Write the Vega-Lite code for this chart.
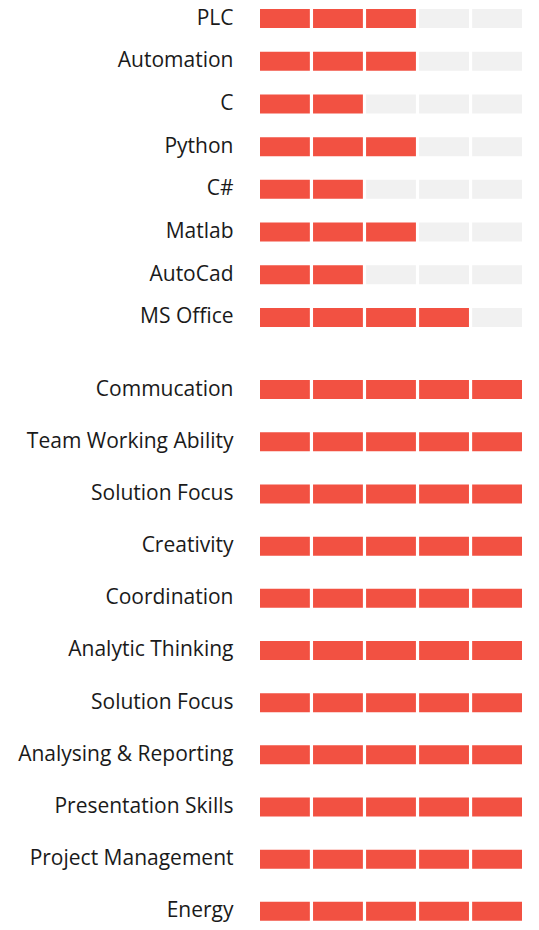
{
  "$schema": "https://vega.github.io/schema/vega-lite/v6.json",
  "padding": {"left": 17, "top": 5, "right": 5, "bottom": 0},
  "background": "white",
  "data": {"values": [
    {"skill": "PLC", "group": "tech", "seg": 1, "on": 1}, {"skill": "PLC", "group": "tech", "seg": 2, "on": 1}, {"skill": "PLC", "group": "tech", "seg": 3, "on": 1}, {"skill": "PLC", "group": "tech", "seg": 4, "on": 0}, {"skill": "PLC", "group": "tech", "seg": 5, "on": 0},
    {"skill": "Automation", "group": "tech", "seg": 1, "on": 1}, {"skill": "Automation", "group": "tech", "seg": 2, "on": 1}, {"skill": "Automation", "group": "tech", "seg": 3, "on": 1}, {"skill": "Automation", "group": "tech", "seg": 4, "on": 0}, {"skill": "Automation", "group": "tech", "seg": 5, "on": 0},
    {"skill": "C", "group": "tech", "seg": 1, "on": 1}, {"skill": "C", "group": "tech", "seg": 2, "on": 1}, {"skill": "C", "group": "tech", "seg": 3, "on": 0}, {"skill": "C", "group": "tech", "seg": 4, "on": 0}, {"skill": "C", "group": "tech", "seg": 5, "on": 0},
    {"skill": "Python", "group": "tech", "seg": 1, "on": 1}, {"skill": "Python", "group": "tech", "seg": 2, "on": 1}, {"skill": "Python", "group": "tech", "seg": 3, "on": 1}, {"skill": "Python", "group": "tech", "seg": 4, "on": 0}, {"skill": "Python", "group": "tech", "seg": 5, "on": 0},
    {"skill": "C#", "group": "tech", "seg": 1, "on": 1}, {"skill": "C#", "group": "tech", "seg": 2, "on": 1}, {"skill": "C#", "group": "tech", "seg": 3, "on": 0}, {"skill": "C#", "group": "tech", "seg": 4, "on": 0}, {"skill": "C#", "group": "tech", "seg": 5, "on": 0},
    {"skill": "Matlab", "group": "tech", "seg": 1, "on": 1}, {"skill": "Matlab", "group": "tech", "seg": 2, "on": 1}, {"skill": "Matlab", "group": "tech", "seg": 3, "on": 1}, {"skill": "Matlab", "group": "tech", "seg": 4, "on": 0}, {"skill": "Matlab", "group": "tech", "seg": 5, "on": 0},
    {"skill": "AutoCad", "group": "tech", "seg": 1, "on": 1}, {"skill": "AutoCad", "group": "tech", "seg": 2, "on": 1}, {"skill": "AutoCad", "group": "tech", "seg": 3, "on": 0}, {"skill": "AutoCad", "group": "tech", "seg": 4, "on": 0}, {"skill": "AutoCad", "group": "tech", "seg": 5, "on": 0},
    {"skill": "MS Office", "group": "tech", "seg": 1, "on": 1}, {"skill": "MS Office", "group": "tech", "seg": 2, "on": 1}, {"skill": "MS Office", "group": "tech", "seg": 3, "on": 1}, {"skill": "MS Office", "group": "tech", "seg": 4, "on": 1}, {"skill": "MS Office", "group": "tech", "seg": 5, "on": 0},
    {"skill": "Commucation", "group": "soft", "seg": 1, "on": 1}, {"skill": "Commucation", "group": "soft", "seg": 2, "on": 1}, {"skill": "Commucation", "group": "soft", "seg": 3, "on": 1}, {"skill": "Commucation", "group": "soft", "seg": 4, "on": 1}, {"skill": "Commucation", "group": "soft", "seg": 5, "on": 1},
    {"skill": "Team Working Ability", "group": "soft", "seg": 1, "on": 1}, {"skill": "Team Working Ability", "group": "soft", "seg": 2, "on": 1}, {"skill": "Team Working Ability", "group": "soft", "seg": 3, "on": 1}, {"skill": "Team Working Ability", "group": "soft", "seg": 4, "on": 1}, {"skill": "Team Working Ability", "group": "soft", "seg": 5, "on": 1},
    {"skill": "Solution Focus", "group": "soft", "seg": 1, "on": 1}, {"skill": "Solution Focus", "group": "soft", "seg": 2, "on": 1}, {"skill": "Solution Focus", "group": "soft", "seg": 3, "on": 1}, {"skill": "Solution Focus", "group": "soft", "seg": 4, "on": 1}, {"skill": "Solution Focus", "group": "soft", "seg": 5, "on": 1},
    {"skill": "Creativity", "group": "soft", "seg": 1, "on": 1}, {"skill": "Creativity", "group": "soft", "seg": 2, "on": 1}, {"skill": "Creativity", "group": "soft", "seg": 3, "on": 1}, {"skill": "Creativity", "group": "soft", "seg": 4, "on": 1}, {"skill": "Creativity", "group": "soft", "seg": 5, "on": 1},
    {"skill": "Coordination", "group": "soft", "seg": 1, "on": 1}, {"skill": "Coordination", "group": "soft", "seg": 2, "on": 1}, {"skill": "Coordination", "group": "soft", "seg": 3, "on": 1}, {"skill": "Coordination", "group": "soft", "seg": 4, "on": 1}, {"skill": "Coordination", "group": "soft", "seg": 5, "on": 1},
    {"skill": "Analytic Thinking", "group": "soft", "seg": 1, "on": 1}, {"skill": "Analytic Thinking", "group": "soft", "seg": 2, "on": 1}, {"skill": "Analytic Thinking", "group": "soft", "seg": 3, "on": 1}, {"skill": "Analytic Thinking", "group": "soft", "seg": 4, "on": 1}, {"skill": "Analytic Thinking", "group": "soft", "seg": 5, "on": 1},
    {"skill": "Solution Focus~2", "group": "soft", "seg": 1, "on": 1}, {"skill": "Solution Focus~2", "group": "soft", "seg": 2, "on": 1}, {"skill": "Solution Focus~2", "group": "soft", "seg": 3, "on": 1}, {"skill": "Solution Focus~2", "group": "soft", "seg": 4, "on": 1}, {"skill": "Solution Focus~2", "group": "soft", "seg": 5, "on": 1},
    {"skill": "Analysing & Reporting", "group": "soft", "seg": 1, "on": 1}, {"skill": "Analysing & Reporting", "group": "soft", "seg": 2, "on": 1}, {"skill": "Analysing & Reporting", "group": "soft", "seg": 3, "on": 1}, {"skill": "Analysing & Reporting", "group": "soft", "seg": 4, "on": 1}, {"skill": "Analysing & Reporting", "group": "soft", "seg": 5, "on": 1},
    {"skill": "Presentation Skills", "group": "soft", "seg": 1, "on": 1}, {"skill": "Presentation Skills", "group": "soft", "seg": 2, "on": 1}, {"skill": "Presentation Skills", "group": "soft", "seg": 3, "on": 1}, {"skill": "Presentation Skills", "group": "soft", "seg": 4, "on": 1}, {"skill": "Presentation Skills", "group": "soft", "seg": 5, "on": 1},
    {"skill": "Project Management", "group": "soft", "seg": 1, "on": 1}, {"skill": "Project Management", "group": "soft", "seg": 2, "on": 1}, {"skill": "Project Management", "group": "soft", "seg": 3, "on": 1}, {"skill": "Project Management", "group": "soft", "seg": 4, "on": 1}, {"skill": "Project Management", "group": "soft", "seg": 5, "on": 1},
    {"skill": "Energy", "group": "soft", "seg": 1, "on": 1}, {"skill": "Energy", "group": "soft", "seg": 2, "on": 1}, {"skill": "Energy", "group": "soft", "seg": 3, "on": 1}, {"skill": "Energy", "group": "soft", "seg": 4, "on": 1}, {"skill": "Energy", "group": "soft", "seg": 5, "on": 1}
  ]},
  "config": {
    "view": {"stroke": null},
    "axis": {"domain": false, "ticks": false, "grid": false, "labelFont": "Open Sans", "labelFontSize": 21, "labelColor": "#1a1a1a", "labelPadding": 27, "labelLimit": 400},
    "concat": {"spacing": 41}
  },
  "vconcat": [
    {
      "width": 262,
      "height": {"step": 42.69},
      "transform": [{"filter": "datum.group === 'tech'"}],
      "mark": {"type": "bar", "height": 19},
      "encoding": {
        "x": {"field": "seg", "type": "ordinal", "axis": null, "scale": {"paddingInner": 0.06, "paddingOuter": 0}},
        "y": {"field": "skill", "type": "nominal", "sort": null, "title": null, "axis": {"labelExpr": "split(datum.label, '~')[0]"}, "scale": {"paddingInner": 0.363, "paddingOuter": 0}},
        "color": {"field": "on", "type": "nominal", "scale": {"domain": [1, 0], "range": ["#F25142", "#F1F1F1"]}, "legend": null}
      }
    },
    {
      "width": 262,
      "height": {"step": 52.17},
      "transform": [{"filter": "datum.group === 'soft'"}],
      "mark": {"type": "bar", "height": 19},
      "encoding": {
        "x": {"field": "seg", "type": "ordinal", "axis": null, "scale": {"paddingInner": 0.06, "paddingOuter": 0}},
        "y": {"field": "skill", "type": "nominal", "sort": null, "title": null, "axis": {"labelExpr": "split(datum.label, '~')[0]"}, "scale": {"paddingInner": 0.363, "paddingOuter": 0}},
        "color": {"field": "on", "type": "nominal", "scale": {"domain": [1, 0], "range": ["#F25142", "#F1F1F1"]}, "legend": null}
      }
    }
  ]
}
